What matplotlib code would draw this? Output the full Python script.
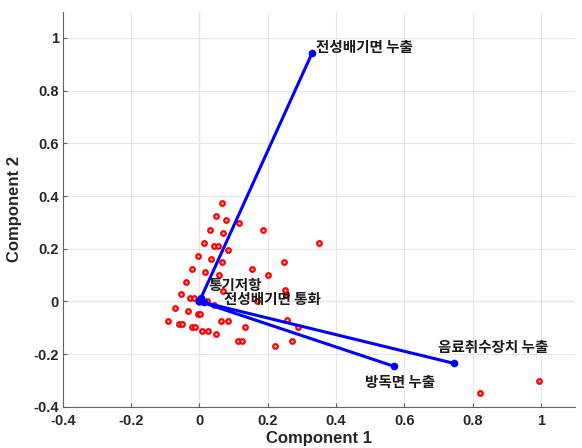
import matplotlib
matplotlib.use("Agg")
import matplotlib.pyplot as plt
import numpy as np

plt.rcParams['font.family'] = ['Liberation Sans', 'Noto Sans CJK KR', 'DejaVu Sans']

var_names = ['통기저항', '전성배기면 통화', '전성배기면 누출', '음료취수장치 누출', '방독면 누출']
coef_c1 = [0.005, 0.012, 0.330, 0.745, 0.569]
coef_c2 = [0.012, -0.004, 0.943, -0.235, -0.246]
label_x = [0.026, 0.073, 0.342, 0.700, 0.485]
label_y = [0.064, 0.011, 0.966, -0.174, -0.307]

score_c1 = [0.065, 0.048, 0.078, 0.116, 0.031, 0.070, 0.185, 0.351, 0.014, 0.043,
            0.053, 0.083, -0.004, 0.034, 0.065, 0.247, -0.022, 0.153, 0.017, 0.058,
            0.201, -0.040, 0.068, 0.250, 0.253, -0.055, -0.027, -0.015, 0.170, 0.021,
            0.044, -0.073, -0.034, -0.003, 0.002, -0.091, -0.061, -0.052, 0.063, 0.083,
            0.257, -0.021, -0.012, 0.132, 0.289, 0.007, 0.026, 0.048, 0.114, 0.126,
            0.272, 0.221, 0.821, 0.994]
score_c2 = [0.372, 0.323, 0.309, 0.297, 0.272, 0.260, 0.272, 0.223, 0.223, 0.209,
            0.212, 0.197, 0.174, 0.162, 0.149, 0.149, 0.124, 0.124, 0.113, 0.100,
            0.100, 0.075, 0.038, 0.042, 0.023, 0.027, 0.013, 0.013, 0.001, 0.001,
            -0.014, -0.024, -0.037, -0.049, -0.049, -0.073, -0.086, -0.086, -0.073, -0.073,
            -0.072, -0.098, -0.098, -0.098, -0.098, -0.113, -0.113, -0.124, -0.149, -0.149,
            -0.149, -0.170, -0.348, -0.302]

xticks = [-0.4, -0.2, 0, 0.2, 0.4, 0.6, 0.8, 1]
yticks = [-0.4, -0.2, 0, 0.2, 0.4, 0.6, 0.8, 1]

fig = plt.figure(figsize=(5.82, 4.48), dpi=100)
ax = fig.add_axes([0.108, 0.092, 0.880, 0.882])
ax.set_xlim(-0.4, 1.1)
ax.set_ylim(-0.4, 1.1)

ax.grid(True, color='#e6e6e6', linewidth=0.8, zorder=0)
ax.axhline(0, color='#808080', linewidth=0.8, zorder=1)
ax.axvline(0, color='#808080', linewidth=0.8, zorder=1)

for c1, c2 in zip(coef_c1, coef_c2):
    ax.plot([0, c1], [0, c2], color='#0000ff', linewidth=2.2, zorder=3)
    ax.plot([c1], [c2], marker='o', color='#0000ff', markersize=4.5, zorder=4)
ax.plot([0], [0], marker='o', color='#0000ff', markersize=5, zorder=4)

ax.plot(score_c1, score_c2, linestyle='none', marker='o', markersize=3.3,
        markerfacecolor='#ffe0e0', markeredgecolor='#ff0000', markeredgewidth=1.6, zorder=2)

for name, lx, ly in zip(var_names, label_x, label_y):
    ax.text(lx, ly, name, fontsize=10.5, fontweight='bold', ha='left', va='center',
            family=['Noto Sans CJK KR', 'DejaVu Sans'], color='#1a1a1a', zorder=5)

ax.set_xticks(xticks)
ax.set_yticks(yticks)
ax.set_xticklabels([f'{t:g}' for t in xticks], fontweight='bold', fontsize=10.5)
ax.set_yticklabels([f'{t:g}' for t in yticks], fontweight='bold', fontsize=10.5)
ax.tick_params(axis='x', pad=5)
ax.tick_params(axis='y', pad=3)
ax.tick_params(direction='in', length=3, color='#606060', labelcolor='#262626')

for s in ['top', 'right']:
    ax.spines[s].set_visible(False)
for s in ['left', 'bottom']:
    ax.spines[s].set_color('#606060')
    ax.spines[s].set_linewidth(0.8)

ax.set_xlabel('Component 1', fontsize=12, fontweight='bold', color='#262626', labelpad=2)
ax.set_ylabel('Component 2', fontsize=12, fontweight='bold', color='#262626', labelpad=8)

fig.savefig('out.png', dpi=100)
